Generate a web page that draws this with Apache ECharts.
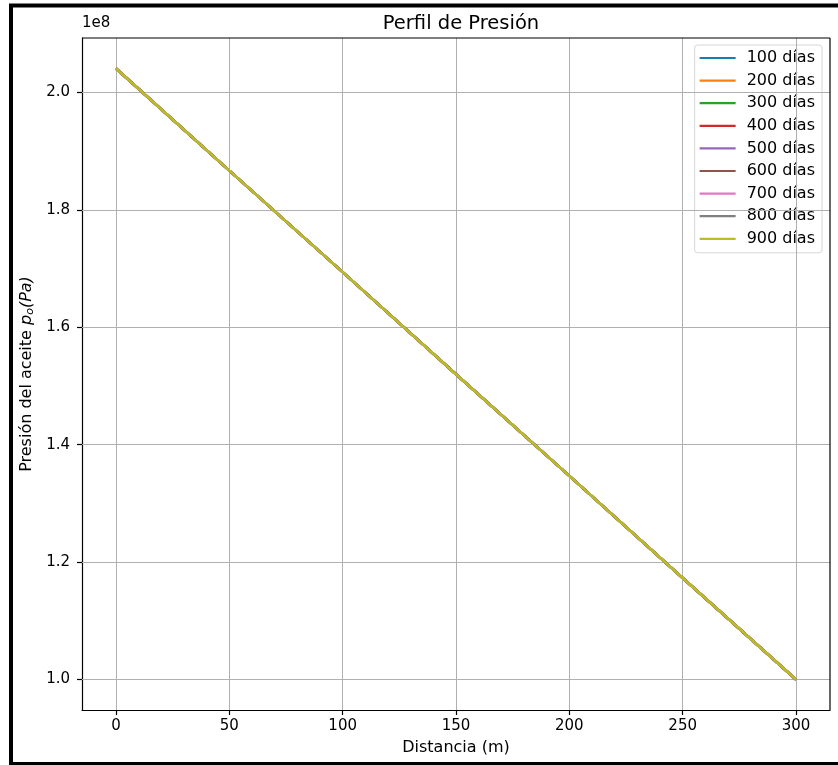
<!DOCTYPE html>
<html>
<head>
<meta charset="utf-8">
<script src="https://cdn.jsdelivr.net/npm/echarts@6/dist/echarts.min.js"></script>
<style>html,body{margin:0;padding:0;background:#fff}#c{width:838px;height:765px}</style>
</head>
<body>
<div id="c"></div>
<script>
// Distance (m)
const distancia = [0, 50, 100, 150, 200, 250, 300];
// Pressure (Pa) per time step (all curves coincide)
const p100 = [2.041e8, 1.867e8, 1.694e8, 1.520e8, 1.347e8, 1.173e8, 1.000e8];
const p200 = [2.041e8, 1.867e8, 1.694e8, 1.520e8, 1.347e8, 1.173e8, 1.000e8];
const p300 = [2.041e8, 1.867e8, 1.694e8, 1.520e8, 1.347e8, 1.173e8, 1.000e8];
const p400 = [2.041e8, 1.867e8, 1.694e8, 1.520e8, 1.347e8, 1.173e8, 1.000e8];
const p500 = [2.041e8, 1.867e8, 1.694e8, 1.520e8, 1.347e8, 1.173e8, 1.000e8];
const p600 = [2.041e8, 1.867e8, 1.694e8, 1.520e8, 1.347e8, 1.173e8, 1.000e8];
const p700 = [2.041e8, 1.867e8, 1.694e8, 1.520e8, 1.347e8, 1.173e8, 1.000e8];
const p800 = [2.041e8, 1.867e8, 1.694e8, 1.520e8, 1.347e8, 1.173e8, 1.000e8];
const p900 = [2.041e8, 1.867e8, 1.694e8, 1.520e8, 1.347e8, 1.173e8, 1.000e8];
const seriesNames = ['100 días','200 días','300 días','400 días','500 días','600 días','700 días','800 días','900 días'];
const seriesData = [p100, p200, p300, p400, p500, p600, p700, p800, p900];
const colors = ['#1f77b4','#ff7f0e','#2ca02c','#d62728','#9467bd','#8c564b','#e377c2','#7f7f7f','#bcbd22'];
// Tick labels
const xTicks = [0, 50, 100, 150, 200, 250, 300];
const yTicks = [1.0e8, 1.2e8, 1.4e8, 1.6e8, 1.8e8, 2.0e8];
const xRange = [-15, 315];
const yRange = [0.948e8, 2.093e8];

const font = 'DejaVu Sans';
const chart = echarts.init(document.getElementById('c'), null, {renderer: 'canvas'});

const gridLines = [];
xTicks.forEach(v => gridLines.push({xAxis: v}));
yTicks.forEach(v => gridLines.push({yAxis: v}));

const series = seriesNames.map((name, i) => ({
  name: name,
  type: 'line',
  data: distancia.map((d, k) => [d, seriesData[i][k]]),
  symbol: 'none',
  showSymbol: false,
  lineStyle: {color: colors[i], width: 2.5},
  itemStyle: {color: colors[i]},
  z: 3 + i,
  animation: false
}));
series.push({
  type: 'line', data: [], silent: true, z: 1,
  markLine: {
    silent: true, symbol: 'none', animation: false,
    label: {show: false},
    lineStyle: {color: '#b0b0b0', width: 1, type: 'solid'},
    emphasis: {disabled: true},
    data: gridLines
  }
});

chart.setOption({
  animation: false,
  backgroundColor: '#fff',
  color: colors,
  title: {
    text: 'Perfil de Presión', left: 456, top: 9, textAlign: 'center',
    textStyle: {fontFamily: font, fontSize: 19.5, fontWeight: 'normal', color: '#000'}
  },
  grid: {left: 82, right: 8, top: 38, bottom: 55, containLabel: false},
  legend: {
    orient: 'vertical', right: 16, top: 45,
    data: seriesNames,
    icon: 'rect',
    itemWidth: 36, itemHeight: 2.2, itemGap: 4.6,
    padding: [4, 7, 5, 5],
    backgroundColor: 'rgba(255,255,255,0.8)',
    borderColor: '#d6d6d6', borderWidth: 1, borderRadius: 3,
    textStyle: {fontFamily: font, fontSize: 16, color: '#000', lineHeight: 18, padding: [0, 0, 0, 6]}
  },
  xAxis: {
    type: 'value', min: xRange[0], max: xRange[1],
    name: 'Distancia (m)', nameLocation: 'middle', nameGap: 30,
    nameTextStyle: {fontFamily: font, fontSize: 16, color: '#000'},
    axisLine: {show: true, onZero: false, lineStyle: {color: '#000', width: 1.2}},
    axisTick: {show: true, inside: false, length: 5, lineStyle: {color: '#000', width: 1.2}, customValues: xTicks},
    axisLabel: {fontFamily: font, fontSize: 15, color: '#000', margin: 9, customValues: xTicks},
    splitLine: {show: false}
  },
  yAxis: {
    type: 'value', min: yRange[0], max: yRange[1],
    name: '{n|Presión del aceite }{i|p}{s|o}{i|(Pa)}', nameLocation: 'middle', nameRotate: 90, nameGap: 44,
    nameTextStyle: {
      fontFamily: font, fontSize: 16, color: '#000',
      rich: {
        n: {fontFamily: font, fontSize: 16, color: '#000'},
        i: {fontFamily: font, fontSize: 16, fontStyle: 'italic', color: '#000'},
        s: {fontFamily: font, fontSize: 11, fontStyle: 'italic', color: '#000', verticalAlign: 'bottom', padding: [6, 0, 0, 0]}
      }
    },
    axisLine: {show: true, onZero: false, lineStyle: {color: '#000', width: 1.2}},
    axisTick: {show: true, inside: false, length: 5, lineStyle: {color: '#000', width: 1.2}, customValues: yTicks},
    axisLabel: {fontFamily: font, fontSize: 15, color: '#000', margin: 12, customValues: yTicks,
      formatter: v => (v / 1e8).toFixed(1)},
    splitLine: {show: false}
  },
  graphic: [
    {type: 'text', left: 82, top: 16, style: {text: '1e8', fontFamily: font, fontSize: 15, fill: '#000'}},
    {type: 'rect', silent: true, z: 100, shape: {x: 11, y: 5.5, width: 1000, height: 758.5},
      style: {fill: 'none', stroke: '#000', lineWidth: 4}},
    {type: 'line', silent: true, z: 99, shape: {x1: 830, y1: 38, x2: 830, y2: 710}, style: {stroke: '#000', lineWidth: 1.2}},
    {type: 'line', silent: true, z: 99, shape: {x1: 82, y1: 38, x2: 830, y2: 38}, style: {stroke: '#000', lineWidth: 1.2}}
  ],
  series: series
});
</script>
</body>
</html>
